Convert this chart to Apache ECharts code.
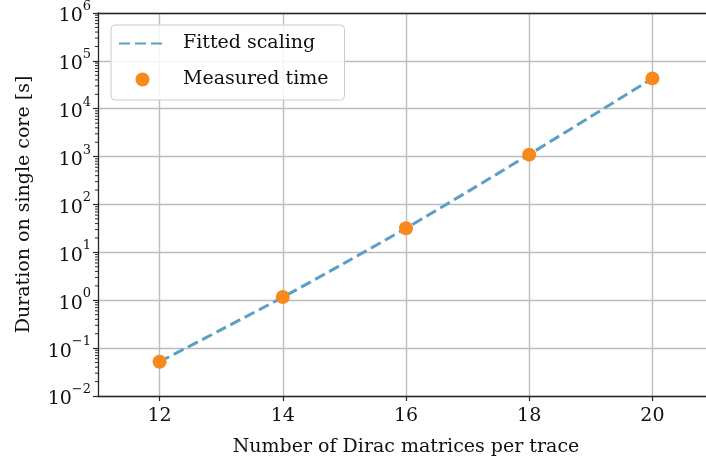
<!DOCTYPE html>
<html>
<head>
<meta charset="utf-8">
<script src="https://cdn.jsdelivr.net/npm/echarts@6/dist/echarts.min.js"></script>
<style>
  html, body { margin: 0; padding: 0; background: #fff; }
  #chart { width: 706px; height: 463px; }
</style>
</head>
<body>
<div id="chart"></div>
<script>
// measured points
const traceSizes = [12, 14, 16, 18, 20];
const measuredTime = [0.052, 1.17, 32, 1100, 43000];
// fitted curve
const fitSizes = [12, 13, 14, 15, 16, 17, 18, 19, 20];
const fitTime = [0.052, 0.243, 1.16, 5.97, 32, 185, 1110, 6860, 43000];
// axis ticks
const xTicks = [12, 14, 16, 18, 20];
const minorMultiples = [2, 3, 4, 5, 6, 7, 8, 9];
const decades = [0.01, 0.1, 1, 10, 100, 1000, 10000, 100000];

const X_MIN = 11;
const X_MAX = 21;
const FONT = 'DejaVu Serif';
const FS = 19;
const SPINE = '#262626';

const minorTicks = [];
decades.forEach(d => minorMultiples.forEach(m => minorTicks.push([X_MIN, d * m])));

const supLabel = (v) => {
  const e = Math.round(Math.log10(v));
  const s = e < 0 ? '\u2212' + (-e) : String(e);
  return '{b|10}{s|' + s + '}';
};

const myChart = echarts.init(document.getElementById('chart'));
const chartOption = {
  animation: false,
  textStyle: { fontFamily: FONT },
  grid: { left: 98, width: 616, top: 13, height: 383, outerBoundsMode: 'none', containLabel: false },
  legend: {
    data: [{ name: 'Fitted scaling', itemStyle: { opacity: 0 } }, 'Measured time'],
    orient: 'vertical',
    left: 111,
    top: 25,
    padding: [9, 16, 11, 7],
    itemWidth: 47,
    itemHeight: 14,
    itemGap: 17,
    backgroundColor: 'rgba(255,255,255,0.85)',
    borderColor: '#cccccc',
    borderWidth: 1,
    borderRadius: 4,
    textStyle: { fontFamily: FONT, fontSize: FS, color: '#111', padding: [0, 0, 0, 12] }
  },
  xAxis: [{
    type: 'value',
    min: X_MIN,
    max: X_MAX,
    name: 'Number of Dirac matrices per trace',
    nameLocation: 'middle',
    nameGap: 42,
    nameTextStyle: { fontFamily: FONT, fontSize: FS, color: '#111' },
    axisLine: { show: true, onZero: false, lineStyle: { color: SPINE, width: 1.3 } },
    axisTick: { show: true, length: 5, customValues: xTicks, lineStyle: { color: SPINE, width: 1.2 } },
    axisLabel: { customValues: xTicks, margin: 11, fontFamily: FONT, fontSize: FS, color: '#111' },
    splitLine: { show: true, lineStyle: { color: '#bdbdbd', width: 1.4 } }
  }, {
    type: 'value',
    position: 'top',
    min: X_MIN,
    max: X_MAX,
    axisLine: { show: true, onZero: false, lineStyle: { color: SPINE, width: 1.3 } },
    axisTick: { show: false },
    axisLabel: { show: false },
    splitLine: { show: false }
  }],
  yAxis: {
    type: 'log',
    logBase: 10,
    min: 0.01,
    max: 1e6,
    interval: 1,
    name: 'Duration on single core [s]',
    nameLocation: 'middle',
    nameGap: 64,
    nameTextStyle: { fontFamily: FONT, fontSize: FS, color: '#111' },
    axisLine: { show: true, lineStyle: { color: SPINE, width: 1.3 } },
    axisTick: { show: true, length: 5, lineStyle: { color: SPINE, width: 1.2 } },
    axisLabel: {
      margin: 7,
      formatter: supLabel,
      rich: {
        b: { fontFamily: FONT, fontSize: FS, color: '#111', lineHeight: 26, verticalAlign: 'bottom' },
        s: { fontFamily: FONT, fontSize: 13, color: '#111', lineHeight: 13, verticalAlign: 'top' }
      }
    },
    splitLine: { show: true, lineStyle: { color: '#bdbdbd', width: 1.4 } }
  },
  series: [{
    name: 'Fitted scaling',
    type: 'line',
    data: fitSizes.map((x, i) => [x, fitTime[i]]),
    symbol: 'none',
    smooth: 0.3,
    lineStyle: { color: '#5b9fc6', width: 3, type: [11, 5] },
    itemStyle: { color: '#5b9fc6' },
    z: 3
  }, {
    name: 'Measured time',
    type: 'scatter',
    data: traceSizes.map((x, i) => [x, measuredTime[i]]),
    symbolSize: 14,
    itemStyle: { color: '#f7891d', opacity: 1 },
    z: 4
  }, {
    name: 'minor',
    type: 'custom',
    silent: true,
    clip: false,
    data: minorTicks,
    renderItem: (params, api) => {
      const p = api.coord([api.value(0), api.value(1)]);
      return {
        type: 'line',
        shape: { x1: p[0] - 3, y1: p[1], x2: p[0], y2: p[1] },
        style: { stroke: SPINE, lineWidth: 1 }
      };
    }
  }]
};
myChart.setOption(chartOption);
</script>
</body>
</html>
